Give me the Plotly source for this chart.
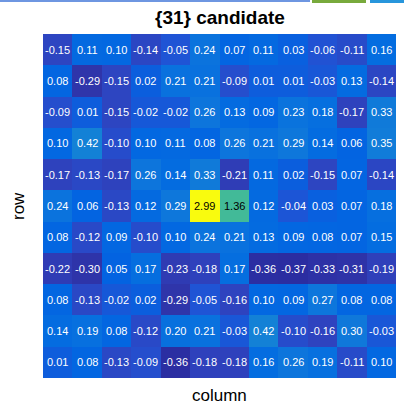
import plotly.graph_objects as go

title_text = "{31} candidate"
x_label = "column"
y_label = "row"
columns = list(range(1, 13))
rows = list(range(1, 12))
values = [
    [-0.15, 0.11, 0.10, -0.14, -0.05, 0.24, 0.07, 0.11, 0.03, -0.06, -0.11, 0.16],
    [0.08, -0.29, -0.15, 0.02, 0.21, 0.21, -0.09, 0.01, 0.01, -0.03, 0.13, -0.14],
    [-0.09, 0.01, -0.15, -0.02, -0.02, 0.26, 0.13, 0.09, 0.23, 0.18, -0.17, 0.33],
    [0.10, 0.42, -0.10, 0.10, 0.11, 0.08, 0.26, 0.21, 0.29, 0.14, 0.06, 0.35],
    [-0.17, -0.13, -0.17, 0.26, 0.14, 0.33, -0.21, 0.11, 0.02, -0.15, 0.07, -0.14],
    [0.24, 0.06, -0.13, 0.12, 0.29, 2.99, 1.36, 0.12, -0.04, 0.03, 0.07, 0.18],
    [0.08, -0.12, 0.09, -0.10, 0.10, 0.24, 0.21, 0.13, 0.09, 0.08, 0.07, 0.15],
    [-0.22, -0.30, 0.05, 0.17, -0.23, -0.18, 0.17, -0.36, -0.37, -0.33, -0.31, -0.19],
    [0.08, -0.13, -0.02, 0.02, -0.29, -0.05, -0.16, 0.10, 0.09, 0.27, 0.08, 0.08],
    [0.14, 0.19, 0.08, -0.12, 0.20, 0.21, -0.03, 0.42, -0.10, -0.16, 0.30, -0.03],
    [0.01, 0.08, -0.13, -0.09, -0.36, -0.18, -0.18, 0.16, 0.26, 0.19, -0.11, 0.10],
]

parula = [
    (0.1700, 0.1750, 0.6300), (0.1900, 0.2138, 0.6800), (0.1800, 0.2645, 0.7500),
    (0.1253, 0.3242, 0.8303), (0.0117, 0.3875, 0.8820), (0.0165, 0.4266, 0.8786),
    (0.0498, 0.4586, 0.8641), (0.0723, 0.4887, 0.8467), (0.0793, 0.5200, 0.8312),
    (0.0641, 0.5570, 0.8240), (0.0343, 0.5966, 0.8199), (0.0239, 0.6287, 0.8038),
    (0.0228, 0.6535, 0.7768), (0.0384, 0.6743, 0.7436), (0.0843, 0.6928, 0.7062),
    (0.1453, 0.7098, 0.6646), (0.2178, 0.7250, 0.6193), (0.3022, 0.7376, 0.5712),
    (0.3953, 0.7459, 0.5244), (0.4871, 0.7491, 0.4840), (0.5709, 0.7485, 0.4494),
    (0.6473, 0.7456, 0.4188), (0.7184, 0.7411, 0.3905), (0.7858, 0.7356, 0.3633),
    (0.8507, 0.7299, 0.3360), (0.9139, 0.7258, 0.3063), (0.9739, 0.7314, 0.2666),
    (0.9990, 0.7653, 0.2164), (0.9880, 0.8066, 0.1794), (0.9697, 0.8481, 0.1475),
    (0.9589, 0.8949, 0.1132), (0.9661, 0.9514, 0.0755), (0.9763, 0.9831, 0.0538),
]
n = len(parula)
colorscale = [[i / (n - 1), "rgb(%d,%d,%d)" % tuple(round(c * 255) for c in p)] for i, p in enumerate(parula)]

vmin = min(min(r) for r in values)
vmax = max(max(r) for r in values)

fig = go.Figure(go.Heatmap(
    z=values, x=columns, y=rows, colorscale=colorscale, zmin=vmin, zmax=vmax,
    showscale=False, xgap=0, ygap=0, hoverinfo="skip",
))

FONT = "Liberation Sans, Arial, sans-serif"
annotations = []
for ri, r in enumerate(values):
    for ci, v in enumerate(r):
        frac = (v - vmin) / (vmax - vmin)
        annotations.append(dict(
            x=columns[ci], y=rows[ri], text="%.2f" % v, showarrow=False,
            font=dict(family=FONT, size=11, color="black" if frac > 0.4 else "white"),
        ))
annotations += [
    dict(xref="paper", yref="paper", x=0.5, y=1, yshift=17, text="<b>" + title_text + "</b>",
         showarrow=False, xanchor="center", yanchor="middle",
         font=dict(family=FONT, size=19, color="black")),
    dict(xref="paper", yref="paper", x=0.5, y=0, yshift=-17, text=x_label,
         showarrow=False, xanchor="center", yanchor="middle",
         font=dict(family=FONT, size=17, color="black")),
    dict(xref="paper", yref="paper", x=0, xshift=-25, y=0.5, text=y_label, textangle=-90,
         showarrow=False, xanchor="center", yanchor="middle",
         font=dict(family=FONT, size=17, color="black")),
]

W, H = 404, 406
L, R, T, B = 43, 8, 34, 28
pw, ph = W - L - R, H - T - B
def px_to_paper_x(px):
    return (px - L) / pw
def px_to_paper_y(py):
    return 1 - (py - T) / ph

shapes = [
    dict(type="rect", xref="paper", yref="paper", x0=px_to_paper_x(0), x1=px_to_paper_x(310),
         y0=px_to_paper_y(2), y1=px_to_paper_y(0), fillcolor="rgb(110,150,225)", line_width=0, layer="above"),
    dict(type="rect", xref="paper", yref="paper", x0=px_to_paper_x(312), x1=px_to_paper_x(366),
         y0=px_to_paper_y(3), y1=px_to_paper_y(0), fillcolor="rgb(120,170,60)", line_width=0, layer="above"),
    dict(type="rect", xref="paper", yref="paper", x0=px_to_paper_x(370), x1=px_to_paper_x(404),
         y0=px_to_paper_y(3), y1=px_to_paper_y(0), fillcolor="rgb(40,150,220)", line_width=0, layer="above"),
]

fig.update_layout(
    width=W, height=H, margin=dict(l=L, r=R, t=T, b=B),
    paper_bgcolor="white", plot_bgcolor="white",
    annotations=annotations, shapes=shapes,
    xaxis=dict(showticklabels=False, ticks="", showgrid=False, zeroline=False,
               range=[0.5, 12.5], fixedrange=True),
    yaxis=dict(showticklabels=False, ticks="", showgrid=False, zeroline=False,
               range=[11.5, 0.5], fixedrange=True),
)

fig.write_html("out.html", config={"displayModeBar": False, "staticPlot": True},
               post_script="document.body.style.margin='0';document.body.style.overflow='hidden';")
